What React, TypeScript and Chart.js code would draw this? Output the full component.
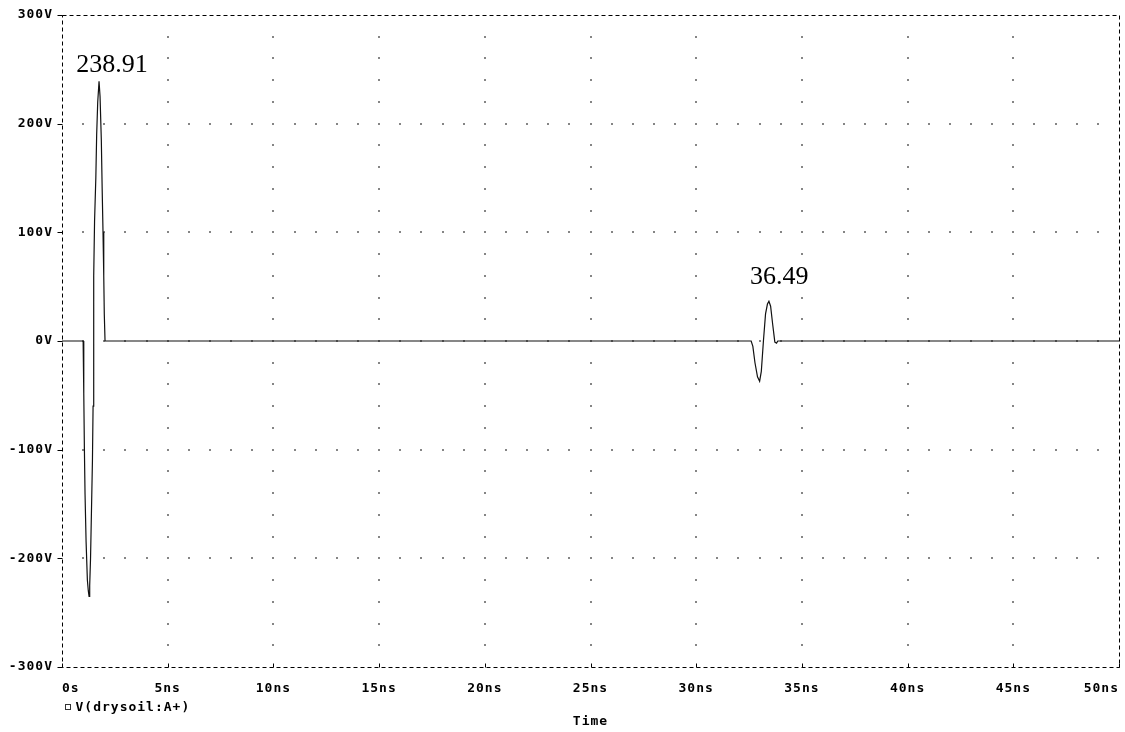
import React, { useEffect, useRef } from 'react';
import { Chart, registerables } from 'chart.js';

Chart.register(...registerables);

// ---- data ----
const seriesLabel = 'V(drysoil:A+)';
const timeNs = [
  0, 1.0, 1.03, 1.06, 1.09, 1.14, 1.2, 1.245, 1.28,
  1.31, 1.35, 1.4, 1.44, 1.47, 1.49, 1.51, 1.54, 1.6, 1.64, 1.69, 1.752,
  1.8, 1.86, 1.9, 1.94, 1.975, 2.0, 2.036,
  32.6, 32.68, 32.78, 32.9, 33.0, 33.08, 33.18, 33.28, 33.37, 33.44, 33.52, 33.62, 33.72, 33.8, 33.86,
  50,
];
const voltageV = [
  0, 0, -48, -100, -141, -185, -220, -230, -235,
  -225, -200, -150, -110, -60, 0, 60, 110, 150, 190, 220, 238.91,
  225, 185, 140, 100, 60, 25, 0,
  0, -5, -20, -33, -37, -28, 0, 25, 34, 36.49, 32, 15, -1, -2, 0,
  0,
];
const xMinNs = 0;
const xMaxNs = 50;
const xStepNs = 5;
const yMinV = -300;
const yMaxV = 300;
const yStepV = 100;
const gridDotStepNs = 1;
const gridDotStepV = 20;

// peak annotations: which sample, and where its text sits (data units)
const annotationIndex = [20, 37];
const annotationTextNs = [2.37, 33.93];
const annotationTextV = [247.4, 52.9];

const tickFont = { family: 'DejaVu Sans Mono', size: 13, weight: 'bold' as const };
const tickSpacing = '1px';

const decorPlugin = {
  id: 'decor',
  beforeDraw(chart: any) {
    chart.ctx.letterSpacing = tickSpacing;
  },
  beforeDatasetsDraw(chart: any) {
    const { ctx, scales } = chart;
    const xs = scales.x;
    const ys = scales.y;
    ctx.save();
    ctx.fillStyle = '#858585';
    for (let t = xMinNs + xStepNs; t < xMaxNs; t += xStepNs) {
      const px = Math.round(xs.getPixelForValue(t));
      for (let v = yMinV + gridDotStepV; v < yMaxV; v += gridDotStepV) {
        const py = Math.round(ys.getPixelForValue(v));
        ctx.fillRect(px - 1, py - 1, 2, 2);
      }
    }
    for (let v = yMinV + yStepV; v < yMaxV; v += yStepV) {
      const py = Math.round(ys.getPixelForValue(v));
      for (let t = xMinNs + gridDotStepNs; t < xMaxNs; t += gridDotStepNs) {
        const px = Math.round(xs.getPixelForValue(t));
        ctx.fillRect(px - 1, py - 1, 2, 2);
      }
    }
    ctx.restore();
  },
  afterDraw(chart: any) {
    const { ctx, chartArea: a, scales } = chart;
    const xs = scales.x;
    const ys = scales.y;
    ctx.save();
    ctx.letterSpacing = '0px';
    ctx.strokeStyle = '#000';
    ctx.lineWidth = 1;
    ctx.setLineDash([4, 3]);
    const L = Math.round(a.left) + 0.5;
    const R = Math.round(a.right) + 0.5;
    const T = Math.round(a.top) + 0.5;
    const B = Math.round(a.bottom) + 0.5;
    ctx.strokeRect(L, T, R - L, B - T);
    ctx.setLineDash([]);
    ctx.beginPath();
    for (let v = yMinV; v <= yMaxV; v += yStepV) {
      const py = Math.round(ys.getPixelForValue(v)) + 0.5;
      ctx.moveTo(L - 5, py);
      ctx.lineTo(L, py);
    }
    for (let t = xMinNs; t <= xMaxNs; t += xStepNs) {
      const px = Math.round(xs.getPixelForValue(t)) + 0.5;
      ctx.moveTo(px, B - 4);
      ctx.lineTo(px, B);
    }
    ctx.stroke();

    // legend
    ctx.strokeStyle = '#333';
    ctx.strokeRect(L + 3, B + 37, 5, 5);
    ctx.fillStyle = '#000';
    ctx.letterSpacing = tickSpacing;
    ctx.font = `bold ${tickFont.size}px "${tickFont.family}"`;
    ctx.textAlign = 'left';
    ctx.textBaseline = 'middle';
    ctx.fillText(seriesLabel, L + 13, B + 40);

    // annotations
    ctx.letterSpacing = '0px';
    ctx.font = '26px "Liberation Serif", "Times New Roman", serif';
    ctx.textAlign = 'center';
    ctx.textBaseline = 'alphabetic';
    annotationIndex.forEach((idx, i) => {
      const text = voltageV[idx].toFixed(2);
      ctx.fillText(text, xs.getPixelForValue(annotationTextNs[i]), ys.getPixelForValue(annotationTextV[i]));
    });
    ctx.restore();
  },
};

export default function App() {
  const canvasRef = useRef<HTMLCanvasElement | null>(null);

  useEffect(() => {
    document.body.style.margin = '0';
    const canvas = canvasRef.current;
    if (!canvas) return;
    const points = timeNs.map((t, i) => ({ x: t, y: voltageV[i] }));
    const chart = new Chart(canvas, {
      type: 'line',
      data: {
        datasets: [
          {
            label: seriesLabel,
            data: points,
            borderColor: '#111',
            borderWidth: 1.2,
            pointRadius: 0,
            tension: 0,
            fill: false,
          },
        ],
      },
      options: {
        animation: false,
        responsive: false,
        devicePixelRatio: 1,
        layout: { padding: { top: 15, right: 6, left: 0, bottom: 0 } },
        plugins: {
          legend: { display: false },
          tooltip: { enabled: false },
          title: { display: false },
        },
        scales: {
          x: {
            type: 'linear',
            min: xMinNs,
            max: xMaxNs,
            grid: { display: false, drawTicks: false },
            border: { display: false },
            ticks: {
              stepSize: xStepNs,
              autoSkip: false,
              maxRotation: 0,
              align: 'inner',
              color: '#000',
              font: tickFont,
              padding: 14,
              callback: (v: any) => (Number(v) === 0 ? '0s' : `${v}ns`),
            },
            title: {
              display: true,
              text: 'Time',
              color: '#000',
              font: tickFont,
              padding: { top: 0, bottom: 3 },
            },
            afterFit: (s: any) => {
              s.height = 65;
              s.paddingLeft = 0;
              s.paddingRight = 0;
            },
          },
          y: {
            type: 'linear',
            min: yMinV,
            max: yMaxV,
            grid: { display: false, drawTicks: false },
            border: { display: false },
            ticks: {
              stepSize: yStepV,
              color: '#000',
              font: tickFont,
              padding: 9,
              callback: (v: any) => `${v}V`,
            },
            afterFit: (s: any) => {
              s.width = 62;
              s.paddingTop = 0;
              s.paddingBottom = 0;
            },
          },
        },
      } as any,
      plugins: [decorPlugin],
    });
    return () => chart.destroy();
  }, []);

  return (
    <div style={{ position: 'absolute', left: 0, top: 0, width: 1125, height: 732, background: '#fff' }}>
      <canvas ref={canvasRef} width={1125} height={732} style={{ display: 'block' }} />
    </div>
  );
}
